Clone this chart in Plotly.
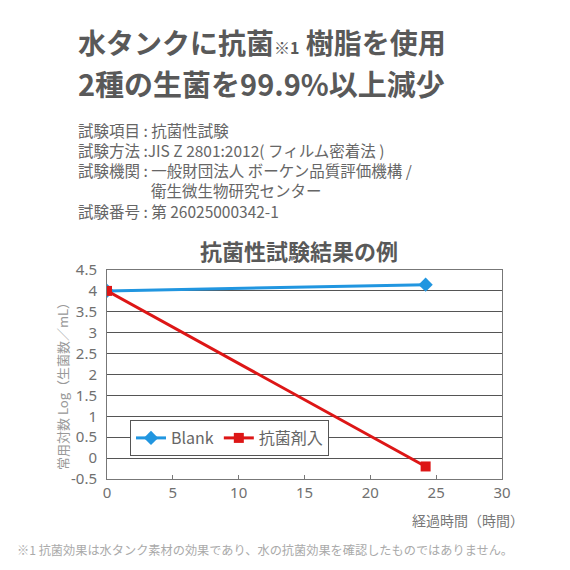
import plotly.graph_objects as go

# ---- data ----
hours = [0, 24.2]
blank_vals = [4.0, 4.15]
antibac_vals = [4.0, -0.2]
series_names = ["Blank", "抗菌剤入"]
x_ticks = [0, 5, 10, 15, 20, 25, 30]
y_ticks = [-0.5, 0, 0.5, 1, 1.5, 2, 2.5, 3, 3.5, 4, 4.5]
y_tick_labels = ["-0.5", "0", "0.5", "1", "1.5", "2", "2.5", "3", "3.5", "4", "4.5"]

info_lines = [
    "試験項目 : 抗菌性試験",
    "試験方法 :JIS Z 2801:2012( フィルム密着法 )",
    "試験機関 : 一般財団法人 ボーケン品質評価機構 /",
    "衛生微生物研究センター",
    "試験番号 : 第 26025000342-1",
]

OFF = 8  # page body margin
W, H = 570, 570
# target screen positions of the plot area
L, R, T, B = 107, 502, 270, 479
JP = "Noto Sans CJK JP"


def px(x):
    return (x - L) / (R - L)


def py(y):
    return (B - y) / (B - T)


fig = go.Figure()
fig.add_trace(go.Scatter(
    x=hours, y=blank_vals, name=series_names[0], mode="lines+markers",
    line=dict(color="#2196e0", width=3),
    marker=dict(symbol="diamond", size=11, color="#2196e0"),
))
fig.add_trace(go.Scatter(
    x=hours, y=antibac_vals, name=series_names[1], mode="lines+markers",
    line=dict(color="#dd1616", width=3),
    marker=dict(symbol="square", size=10, color="#dd1616"),
))

ann = []
ann.append(dict(text='<b>水タンクに抗菌<span style="font-size:16px">※1</span> 樹脂を使用</b>',
                x=px(76), y=py(42), xanchor="left", yanchor="middle",
                font=dict(family=JP, size=28, color="#595959"), showarrow=False))
ann.append(dict(text="<b>2種の生菌を99.9%以上減少</b>",
                x=px(76), y=py(83), xanchor="left", yanchor="middle",
                font=dict(family=JP, size=29, color="#595959"), showarrow=False))

indent = "\u3000\u3000\u3000\u3000" + '<span style="font-size:11px">\u3000</span>'
info_text = "<br>".join([
    info_lines[0], info_lines[1], info_lines[2], indent + info_lines[3], info_lines[4]
])
ann.append(dict(text=info_text, x=px(76), y=py(170), xanchor="left", yanchor="middle",
                align="left",
                font=dict(family=JP, size=15.5, color="#666666"), showarrow=False))

ann.append(dict(text="<b>抗菌性試験結果の例</b>", x=px(299), y=py(250),
                xanchor="center", yanchor="middle",
                font=dict(family=JP, size=22, color="#595959"), showarrow=False))
ann.append(dict(text="常用対数 Log（生菌数／mL）", x=px(62), y=py(383), textangle=-90,
                xanchor="center", yanchor="middle",
                font=dict(family=JP, size=13, color="#999999"), showarrow=False))
ann.append(dict(text="経過時間（時間）", x=px(468), y=py(520),
                xanchor="center", yanchor="middle",
                font=dict(family=JP, size=14, color="#777777"), showarrow=False))
ann.append(dict(text="※1 抗菌効果は水タンク素材の効果であり、水の抗菌効果を確認したものではありません。",
                x=px(15), y=py(550), xanchor="left", yanchor="middle",
                font=dict(family=JP, size=12.2, color="#aaaaaa"), showarrow=False))

for a in ann:
    a["xref"] = "paper"
    a["yref"] = "paper"

fig.update_layout(
    width=W, height=H,
    margin=dict(l=L - OFF, r=W - R + OFF, t=T - OFF, b=H - B + OFF, pad=0),
    paper_bgcolor="white", plot_bgcolor="white",
    annotations=ann,
    showlegend=True,
    legend=dict(orientation="h", x=px(130), y=py(420), xanchor="left", yanchor="top",
                bgcolor="white", bordercolor="#555555", borderwidth=1,
                font=dict(family=JP, size=16, color="#666666"),
                itemwidth=30, tracegroupgap=0),
    xaxis=dict(range=[0, 30], tickvals=x_ticks, ticks="inside", ticklen=4,
               tickcolor="#777777", showgrid=False, zeroline=False,
               showline=True, linecolor="#777777", linewidth=1, mirror=True,
               tickfont=dict(family="Noto Sans", size=15, color="#707070")),
    yaxis=dict(range=[-0.5, 4.5], tickvals=y_ticks, ticktext=y_tick_labels,
               ticks="", showgrid=True, gridcolor="#555555", gridwidth=1,
               zeroline=False, showline=True, linecolor="#777777", linewidth=1,
               mirror=True, ticklabelstandoff=6,
               tickfont=dict(family="Noto Sans", size=15, color="#707070")),
)

fig.write_html("out.html")
